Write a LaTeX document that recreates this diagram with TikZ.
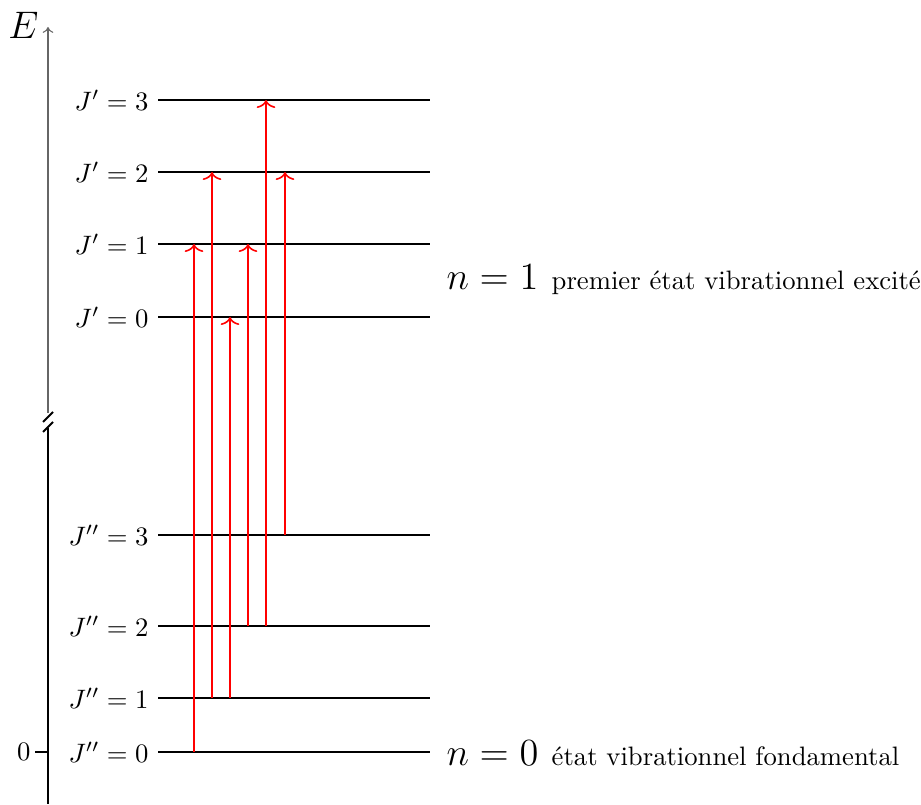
\documentclass[tikz,border=0pt]{standalone}
\usetikzlibrary{arrows.meta}
\begin{document}
\begin{tikzpicture}[x=0.375pt,y=-0.375pt,
  level/.style={line width=0.75pt,black},
  trans/.style={red,line width=0.6pt,-{To[length=3pt,width=7pt]}},
  lab/.style={anchor=east,inner sep=0pt},
  big/.style={anchor=base west,inner sep=0pt}]
\useasboundingbox (0,0) rectangle (921,804);
% axis
\draw[gray!80!black,line width=0.4pt,-{To[length=2.2pt,width=4pt]}] (48,413) -- (48,27) coordinate (top);
\draw[black,line width=0.9pt] (48,428) -- (48,804);
\draw[line width=0.7pt] (43,422) -- (53,412) (43,432) -- (53,422);
\draw[line width=0.9pt] (35,752) -- (48,752);
\node[lab] (zero) at (31,752) {$0$};
\node[anchor=base east,inner sep=0pt] (E) at (39,39) {\fontsize{15}{18}\selectfont $E$};
% levels
\foreach \n/\y/\t in {a3/100/{J'=3},a2/172/{J'=2},a1/244/{J'=1},a0/317/{J'=0},b3/535/{J''=3},b2/626/{J''=2},b1/698/{J''=1},b0/752/{J''=0}}{
  \coordinate (\n L) at (158,\y);
  \coordinate (\n R) at (430,\y);
  \draw[level] (\n L) -- (\n R);
  \node[lab] (\n t) at (149,\y) {$\t$};
}
\node[big] (n1) at (446,290) {\fontsize{14}{17}\selectfont $n=1$\hspace{5pt}\normalsize premier état vibrationnel excité};
\node[big] (n0) at (446,765) {\fontsize{14}{17}\selectfont $n=0$\hspace{5pt}\normalsize état vibrationnel fondamental};
% transitions
\foreach \x/\f/\t in {194/b0/a1,212/b1/a2,230/b1/a0,248/b2/a1,266/b2/a3,285/b3/a2}{
  \draw[trans] (\f L -| \x,0) -- (\t L -| \x,0);
}
\end{tikzpicture}
\end{document}
